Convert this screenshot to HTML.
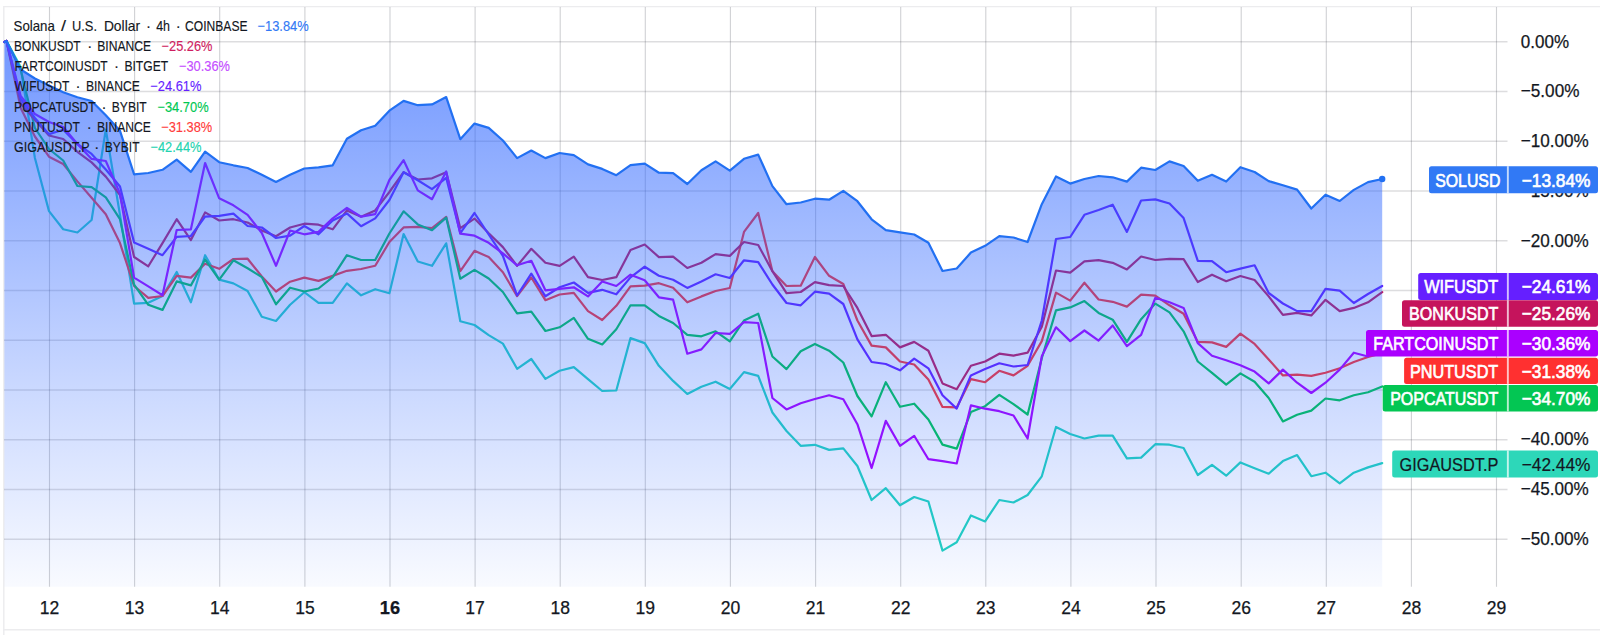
<!DOCTYPE html>
<html lang="en"><head><meta charset="utf-8"><title>Solana / U.S. Dollar chart</title>
<style>
html,body{margin:0;padding:0;background:#fff;}
body{width:1600px;height:635px;overflow:hidden;}
svg{display:block;}
text{font-family:"Liberation Sans", "DejaVu Sans", sans-serif;}
.ax{font-size:18.4px;fill:#131722;stroke:#131722;stroke-width:.25px;}
.lg{font-size:15px;fill:#131722;stroke:#131722;stroke-width:.15px;}
.lb{font-size:18.4px;fill:#fff;stroke:#fff;stroke-width:.65px;}
</style></head><body>
<svg width="1600" height="635" viewBox="0 0 1600 635">
<defs>
<linearGradient id="ag" gradientUnits="userSpaceOnUse" x1="0" y1="7" x2="0" y2="586.8">
<stop offset="0" stop-color="#2962ff" stop-opacity="0.70"/>
<stop offset="0.68" stop-color="#2962ff" stop-opacity="0.23"/>
<stop offset="1" stop-color="#2962ff" stop-opacity="0.03"/>
</linearGradient>
</defs>
<rect width="1600" height="635" fill="#fff"/>

<path d="M3.8 635 V6.6 H1600" fill="none" stroke="#ececee" stroke-width="1.4"/>
<path d="M3.8 629.8 H1600" fill="none" stroke="#ececee" stroke-width="1.4"/>
<path d="M49.5 7 V586.8 M134.6 7 V586.8 M219.7 7 V586.8 M304.9 7 V586.8 M390.0 7 V586.8 M475.1 7 V586.8 M560.2 7 V586.8 M645.3 7 V586.8 M730.4 7 V586.8 M815.6 7 V586.8 M900.7 7 V586.8 M985.8 7 V586.8 M1070.9 7 V586.8 M1156.0 7 V586.8 M1241.2 7 V586.8 M1326.3 7 V586.8 M1411.4 7 V586.8 M1496.5 7 V586.8" fill="none" stroke="#2a2e39" stroke-opacity="0.22" stroke-width="1.1"/>
<path d="M4 41.8 H1507.5 M4 91.5 H1507.5 M4 141.3 H1507.5 M4 191.0 H1507.5 M4 240.8 H1507.5 M4 290.5 H1507.5 M4 340.2 H1507.5 M4 390.0 H1507.5 M4 439.7 H1507.5 M4 489.5 H1507.5 M4 539.2 H1507.5" fill="none" stroke="#2a2e39" stroke-opacity="0.16" stroke-width="1.5"/>
<polyline points="4.4,42 6.5,41.0 20.7,67.0 34.9,158.0 49.0,211.1 63.2,229.3 77.4,232.5 91.6,220.0 105.8,129.5 120.0,215.0 134.1,303.6 148.3,302.8 162.5,296.0 176.7,272.0 190.9,302.3 205.1,255.2 219.2,279.6 233.4,283.4 247.6,291.0 261.8,316.7 276.0,321.0 290.1,304.8 304.3,292.2 318.5,302.8 332.7,302.8 346.9,283.4 361.1,295.3 375.2,289.2 389.4,293.3 403.6,234.0 417.8,261.5 432.0,265.8 446.2,243.3 460.3,321.2 474.5,325.0 488.7,335.1 502.9,343.6 517.1,368.8 531.3,359.0 545.4,378.9 559.6,370.8 573.8,367.1 588.0,379.1 602.2,391.0 616.3,390.5 630.5,338.1 644.7,343.1 658.9,365.8 673.1,380.9 687.3,394.0 701.4,386.7 715.6,381.7 729.8,389.0 744.0,372.1 758.2,375.9 772.4,412.5 786.5,431.0 800.7,445.8 814.9,444.8 829.1,449.9 843.3,448.4 857.4,466.0 871.6,500.0 885.8,488.2 900.0,505.3 914.2,497.0 928.4,501.5 942.5,550.6 956.7,542.3 970.9,515.4 985.1,521.4 999.3,500.0 1013.5,502.5 1027.6,495.0 1041.8,476.3 1056.0,427.0 1070.2,434.0 1084.4,438.5 1098.6,435.6 1112.7,435.6 1126.9,458.3 1141.1,457.6 1155.3,444.2 1169.5,444.7 1183.6,448.0 1197.8,475.0 1212.0,464.9 1226.2,475.7 1240.4,462.4 1254.6,468.2 1268.7,473.7 1282.9,461.1 1297.1,455.1 1311.3,476.2 1325.5,472.7 1339.7,483.3 1353.8,472.7 1368.0,467.4 1382.2,463.1" fill="none" stroke="#22d3c0" stroke-width="2.2" stroke-linejoin="round" stroke-linecap="round"/>
<polyline points="4.4,42 6.5,41.0 20.7,108.0 34.9,136.5 49.0,156.7 63.2,164.0 77.4,181.4 91.6,197.8 105.8,214.2 120.0,243.1 134.1,286.0 148.3,297.8 162.5,296.0 176.7,275.9 190.9,277.6 205.1,263.8 219.2,268.8 233.4,259.0 247.6,258.7 261.8,276.4 276.0,291.5 290.1,281.7 304.3,277.6 318.5,280.9 332.7,275.9 346.9,270.8 361.1,269.0 375.2,265.8 389.4,242.0 403.6,227.4 417.8,226.9 432.0,228.2 446.2,216.8 460.3,271.2 474.5,250.8 488.7,257.1 502.9,272.2 517.1,296.1 531.3,277.5 545.4,300.2 559.6,294.5 573.8,292.8 588.0,311.1 602.2,320.0 616.3,305.8 630.5,286.3 644.7,285.7 658.9,283.2 673.1,287.8 687.3,302.3 701.4,296.4 715.6,291.0 729.8,288.0 744.0,231.9 758.2,213.0 772.4,271.2 786.5,286.0 800.7,285.7 814.9,257.0 829.1,275.8 843.3,284.0 857.4,320.5 871.6,345.6 885.8,347.4 900.0,361.5 914.2,364.5 928.4,379.6 942.5,406.9 956.7,407.4 970.9,379.1 985.1,382.2 999.3,370.8 1013.5,375.4 1027.6,365.8 1041.8,341.1 1056.0,292.6 1070.2,300.6 1084.4,282.7 1098.6,299.5 1112.7,301.8 1126.9,306.6 1141.1,294.6 1155.3,295.7 1169.5,305.3 1183.6,313.7 1197.8,341.9 1212.0,342.4 1226.2,346.9 1240.4,333.6 1254.6,343.9 1268.7,359.5 1282.9,375.4 1297.1,374.6 1311.3,375.9 1325.5,372.8 1339.7,368.3 1353.8,362.0 1368.0,357.0 1382.2,353.2" fill="none" stroke="#ff3232" stroke-width="2.2" stroke-linejoin="round" stroke-linecap="round"/>
<polyline points="4.4,42 6.5,41.0 20.7,70.0 34.9,128.0 49.0,149.0 63.2,160.5 77.4,186.0 91.6,187.2 105.8,197.3 120.0,219.2 134.1,284.7 148.3,304.8 162.5,309.9 176.7,281.4 190.9,285.4 205.1,259.5 219.2,279.6 233.4,260.3 247.6,268.3 261.8,277.1 276.0,304.3 290.1,287.7 304.3,291.5 318.5,288.5 332.7,277.1 346.9,255.2 361.1,260.0 375.2,260.0 389.4,233.5 403.6,211.3 417.8,224.4 432.0,230.2 446.2,217.6 460.3,278.7 474.5,269.9 488.7,278.5 502.9,292.0 517.1,313.4 531.3,311.6 545.4,331.0 559.6,327.3 573.8,317.9 588.0,338.8 602.2,344.4 616.3,329.3 630.5,305.3 644.7,305.3 658.9,315.9 673.1,323.0 687.3,334.8 701.4,336.3 715.6,331.3 729.8,341.4 744.0,320.5 758.2,313.7 772.4,356.5 786.5,369.1 800.7,351.2 814.9,343.9 829.1,350.7 843.3,362.5 857.4,396.0 871.6,416.3 885.8,382.2 900.0,406.8 914.2,403.7 928.4,419.5 942.5,444.6 956.7,448.6 970.9,412.1 985.1,406.2 999.3,394.8 1013.5,404.1 1027.6,414.5 1041.8,358.2 1056.0,310.4 1070.2,307.4 1084.4,301.1 1098.6,312.9 1112.7,319.7 1126.9,341.9 1141.1,319.2 1155.3,303.6 1169.5,312.4 1183.6,331.3 1197.8,361.5 1212.0,372.8 1226.2,384.7 1240.4,373.4 1254.6,381.7 1268.7,398.0 1282.9,421.4 1297.1,414.8 1311.3,410.6 1325.5,398.5 1339.7,400.3 1353.8,395.3 1368.0,392.2 1382.2,386.5" fill="none" stroke="#00c853" stroke-width="2.2" stroke-linejoin="round" stroke-linecap="round"/>
<polyline points="4.4,42 6.5,41.0 20.7,103.0 34.9,120.0 49.0,135.5 63.2,139.0 77.4,151.8 91.6,162.4 105.8,176.6 120.0,195.0 134.1,257.0 148.3,266.3 162.5,243.1 176.7,219.2 190.9,240.1 205.1,212.4 219.2,220.5 233.4,219.2 247.6,222.5 261.8,230.5 276.0,236.3 290.1,227.5 304.3,223.7 318.5,224.7 332.7,229.3 346.9,210.4 361.1,216.7 375.2,210.4 389.4,192.0 403.6,172.2 417.8,179.5 432.0,178.3 446.2,172.2 460.3,228.2 474.5,218.6 488.7,233.2 502.9,247.1 517.1,265.9 531.3,248.8 545.4,262.7 559.6,265.9 573.8,256.6 588.0,277.2 602.2,280.0 616.3,277.2 630.5,250.1 644.7,244.5 658.9,257.1 673.1,256.6 687.3,268.0 701.4,262.7 715.6,254.1 729.8,255.9 744.0,242.0 758.2,245.0 772.4,271.2 786.5,293.1 800.7,292.0 814.9,282.2 829.1,285.2 843.3,286.0 857.4,307.9 871.6,336.1 885.8,334.8 900.0,347.4 914.2,341.9 928.4,350.7 942.5,383.4 956.7,389.2 970.9,365.8 985.1,361.5 999.3,353.7 1013.5,355.7 1027.6,352.7 1041.8,326.8 1056.0,270.5 1070.2,272.7 1084.4,261.4 1098.6,260.2 1112.7,262.8 1126.9,269.4 1141.1,256.5 1155.3,260.0 1169.5,258.9 1183.6,259.2 1197.8,282.0 1212.0,274.7 1226.2,281.2 1240.4,276.0 1254.6,280.0 1268.7,296.4 1282.9,314.9 1297.1,312.9 1311.3,315.4 1325.5,299.8 1339.7,311.1 1353.8,307.9 1368.0,302.3 1382.2,292.2" fill="none" stroke="#c2185b" stroke-width="2.2" stroke-linejoin="round" stroke-linecap="round"/>
<polyline points="4.4,42 6.5,41.0 20.7,99.0 34.9,118.0 49.0,134.1 63.2,129.8 77.4,144.0 91.6,153.9 105.8,169.5 120.0,186.5 134.1,242.6 148.3,248.7 162.5,255.2 176.7,236.8 190.9,236.0 205.1,216.7 219.2,215.9 233.4,213.7 247.6,226.0 261.8,227.5 276.0,238.0 290.1,235.6 304.3,226.0 318.5,234.3 332.7,220.5 346.9,213.4 361.1,226.2 375.2,218.4 389.4,200.0 403.6,172.2 417.8,180.3 432.0,189.1 446.2,177.8 460.3,233.2 474.5,213.0 488.7,234.5 502.9,255.9 517.1,295.5 531.3,273.7 545.4,296.3 559.6,287.3 573.8,282.5 588.0,292.8 602.2,289.8 616.3,294.3 630.5,277.4 644.7,266.7 658.9,275.8 673.1,279.7 687.3,287.9 701.4,281.5 715.6,274.3 729.8,278.0 744.0,260.3 758.2,262.1 772.4,284.5 786.5,303.0 800.7,305.3 814.9,291.7 829.1,293.6 843.3,304.0 857.4,339.3 871.6,362.0 885.8,364.0 900.0,370.3 914.2,358.7 928.4,368.3 942.5,395.3 956.7,408.6 970.9,375.4 985.1,369.1 999.3,363.3 1013.5,366.5 1027.6,365.0 1041.8,320.5 1056.0,239.0 1070.2,237.0 1084.4,214.8 1098.6,210.0 1112.7,204.7 1126.9,231.9 1141.1,200.5 1155.3,199.4 1169.5,203.5 1183.6,218.1 1197.8,260.9 1212.0,261.1 1226.2,272.2 1240.4,268.6 1254.6,265.3 1268.7,293.0 1282.9,303.5 1297.1,311.1 1311.3,311.1 1325.5,288.8 1339.7,290.7 1353.8,303.0 1368.0,294.0 1382.2,286.0" fill="none" stroke="#651fff" stroke-width="2.2" stroke-linejoin="round" stroke-linecap="round"/>
<polyline points="4.4,42 6.5,41.0 20.7,96.0 34.9,114.0 49.0,122.0 63.2,127.0 77.4,144.0 91.6,158.9 105.8,161.0 120.0,193.6 134.1,277.6 148.3,286.4 162.5,295.3 176.7,230.0 190.9,229.3 205.1,163.0 219.2,198.3 233.4,205.3 247.6,214.9 261.8,233.0 276.0,265.8 290.1,230.5 304.3,234.3 318.5,231.8 332.7,218.4 346.9,207.9 361.1,216.7 375.2,214.2 389.4,180.0 403.6,160.2 417.8,190.4 432.0,199.2 446.2,171.5 460.3,233.7 474.5,235.7 488.7,242.8 502.9,253.4 517.1,265.3 531.3,260.8 545.4,290.3 559.6,288.8 573.8,287.3 588.0,296.4 602.2,281.5 616.3,286.0 630.5,274.7 644.7,280.2 658.9,297.3 673.1,299.7 687.3,353.7 701.4,349.4 715.6,333.0 729.8,333.8 744.0,322.2 758.2,323.0 772.4,398.0 786.5,409.4 800.7,403.3 814.9,399.0 829.1,395.3 843.3,399.3 857.4,424.2 871.6,468.0 885.8,420.9 900.0,445.8 914.2,435.8 928.4,459.2 942.5,461.2 956.7,463.5 970.9,405.4 985.1,408.7 999.3,411.2 1013.5,415.5 1027.6,438.5 1041.8,356.2 1056.0,327.3 1070.2,341.1 1084.4,330.5 1098.6,340.6 1112.7,325.5 1126.9,346.1 1141.1,334.8 1155.3,297.8 1169.5,302.3 1183.6,307.9 1197.8,343.1 1212.0,355.7 1226.2,360.3 1240.4,365.3 1254.6,371.6 1268.7,383.4 1282.9,369.6 1297.1,382.7 1311.3,393.0 1325.5,382.7 1339.7,369.6 1353.8,352.7 1368.0,356.5 1382.2,343.5" fill="none" stroke="#aa00ff" stroke-width="2.2" stroke-linejoin="round" stroke-linecap="round"/>
<polygon points="4.4,586.8 4.4,42 6.5,41.0 20.7,69.5 34.9,78.5 49.0,85.4 63.2,92.3 77.4,97.3 91.6,101.0 105.8,115.3 120.0,130.8 134.1,174.3 148.3,173.0 162.5,169.8 176.7,159.7 190.9,171.8 205.1,151.7 219.2,162.2 233.4,165.3 247.6,168.0 261.8,174.8 276.0,181.9 290.1,174.8 304.3,168.5 318.5,167.3 332.7,165.3 346.9,138.8 361.1,130.3 375.2,125.7 389.4,110.7 403.6,100.9 417.8,105.2 432.0,104.4 446.2,97.1 460.3,139.2 474.5,123.6 488.7,127.9 502.9,140.5 517.1,158.1 531.3,150.5 545.4,158.1 559.6,153.0 573.8,155.1 588.0,164.4 602.2,168.9 616.3,175.2 630.5,165.1 644.7,163.6 658.9,172.7 673.1,173.2 687.3,184.0 701.4,170.2 715.6,161.4 729.8,170.7 744.0,158.8 758.2,154.6 772.4,186.1 786.5,204.2 800.7,202.5 814.9,198.7 829.1,199.7 843.3,190.9 857.4,201.2 871.6,219.3 885.8,230.2 900.0,232.4 914.2,234.5 928.4,242.8 942.5,271.0 956.7,268.5 970.9,252.6 985.1,245.8 999.3,236.2 1013.5,237.5 1027.6,242.0 1041.8,204.2 1056.0,176.5 1070.2,183.6 1084.4,179.0 1098.6,176.0 1112.7,177.3 1126.9,181.6 1141.1,167.7 1155.3,170.0 1169.5,161.4 1183.6,166.0 1197.8,180.8 1212.0,174.8 1226.2,181.6 1240.4,167.2 1254.6,172.0 1268.7,181.1 1282.9,185.3 1297.1,189.6 1311.3,208.5 1325.5,194.7 1339.7,201.0 1353.8,189.9 1368.0,182.1 1382.2,179.0 1382.2,586.8" fill="url(#ag)"/>
<polyline points="4.4,42 6.5,41.0 20.7,69.5 34.9,78.5 49.0,85.4 63.2,92.3 77.4,97.3 91.6,101.0 105.8,115.3 120.0,130.8 134.1,174.3 148.3,173.0 162.5,169.8 176.7,159.7 190.9,171.8 205.1,151.7 219.2,162.2 233.4,165.3 247.6,168.0 261.8,174.8 276.0,181.9 290.1,174.8 304.3,168.5 318.5,167.3 332.7,165.3 346.9,138.8 361.1,130.3 375.2,125.7 389.4,110.7 403.6,100.9 417.8,105.2 432.0,104.4 446.2,97.1 460.3,139.2 474.5,123.6 488.7,127.9 502.9,140.5 517.1,158.1 531.3,150.5 545.4,158.1 559.6,153.0 573.8,155.1 588.0,164.4 602.2,168.9 616.3,175.2 630.5,165.1 644.7,163.6 658.9,172.7 673.1,173.2 687.3,184.0 701.4,170.2 715.6,161.4 729.8,170.7 744.0,158.8 758.2,154.6 772.4,186.1 786.5,204.2 800.7,202.5 814.9,198.7 829.1,199.7 843.3,190.9 857.4,201.2 871.6,219.3 885.8,230.2 900.0,232.4 914.2,234.5 928.4,242.8 942.5,271.0 956.7,268.5 970.9,252.6 985.1,245.8 999.3,236.2 1013.5,237.5 1027.6,242.0 1041.8,204.2 1056.0,176.5 1070.2,183.6 1084.4,179.0 1098.6,176.0 1112.7,177.3 1126.9,181.6 1141.1,167.7 1155.3,170.0 1169.5,161.4 1183.6,166.0 1197.8,180.8 1212.0,174.8 1226.2,181.6 1240.4,167.2 1254.6,172.0 1268.7,181.1 1282.9,185.3 1297.1,189.6 1311.3,208.5 1325.5,194.7 1339.7,201.0 1353.8,189.9 1368.0,182.1 1382.2,179.0" fill="none" stroke="#2270f2" stroke-width="2.2" stroke-linejoin="round" stroke-linecap="round"/>
<circle cx="1382.2" cy="179" r="3.2" fill="#2270f2"/>
<text class="ax" x="1520.8" y="47.5" textLength="48.2" lengthAdjust="spacingAndGlyphs">0.00%</text>
<text class="ax" x="1520.8" y="97.2" textLength="58.6" lengthAdjust="spacingAndGlyphs">−5.00%</text>
<text class="ax" x="1520.8" y="147.0" textLength="68.0" lengthAdjust="spacingAndGlyphs">−10.00%</text>
<text class="ax" x="1520.8" y="246.5" textLength="68.0" lengthAdjust="spacingAndGlyphs">−20.00%</text>
<text class="ax" x="1520.8" y="445.4" textLength="68.0" lengthAdjust="spacingAndGlyphs">−40.00%</text>
<text class="ax" x="1520.8" y="495.2" textLength="68.0" lengthAdjust="spacingAndGlyphs">−45.00%</text>
<text class="ax" x="1520.8" y="544.9" textLength="68.0" lengthAdjust="spacingAndGlyphs">−50.00%</text>
<text class="ax" x="1520.8" y="196.7" textLength="68" lengthAdjust="spacingAndGlyphs">−15.00%</text>
<text class="ax" x="49.5" y="613.7" text-anchor="middle" textLength="19.5" lengthAdjust="spacingAndGlyphs">12</text>
<text class="ax" x="134.6" y="613.7" text-anchor="middle" textLength="19.5" lengthAdjust="spacingAndGlyphs">13</text>
<text class="ax" x="219.7" y="613.7" text-anchor="middle" textLength="19.5" lengthAdjust="spacingAndGlyphs">14</text>
<text class="ax" x="304.9" y="613.7" text-anchor="middle" textLength="19.5" lengthAdjust="spacingAndGlyphs">15</text>
<text class="ax" x="390.0" y="613.7" text-anchor="middle" textLength="20.3" lengthAdjust="spacingAndGlyphs" font-weight="bold">16</text>
<text class="ax" x="475.1" y="613.7" text-anchor="middle" textLength="19.5" lengthAdjust="spacingAndGlyphs">17</text>
<text class="ax" x="560.2" y="613.7" text-anchor="middle" textLength="19.5" lengthAdjust="spacingAndGlyphs">18</text>
<text class="ax" x="645.3" y="613.7" text-anchor="middle" textLength="19.5" lengthAdjust="spacingAndGlyphs">19</text>
<text class="ax" x="730.4" y="613.7" text-anchor="middle" textLength="19.5" lengthAdjust="spacingAndGlyphs">20</text>
<text class="ax" x="815.6" y="613.7" text-anchor="middle" textLength="19.5" lengthAdjust="spacingAndGlyphs">21</text>
<text class="ax" x="900.7" y="613.7" text-anchor="middle" textLength="19.5" lengthAdjust="spacingAndGlyphs">22</text>
<text class="ax" x="985.8" y="613.7" text-anchor="middle" textLength="19.5" lengthAdjust="spacingAndGlyphs">23</text>
<text class="ax" x="1070.9" y="613.7" text-anchor="middle" textLength="19.5" lengthAdjust="spacingAndGlyphs">24</text>
<text class="ax" x="1156.0" y="613.7" text-anchor="middle" textLength="19.5" lengthAdjust="spacingAndGlyphs">25</text>
<text class="ax" x="1241.2" y="613.7" text-anchor="middle" textLength="19.5" lengthAdjust="spacingAndGlyphs">26</text>
<text class="ax" x="1326.3" y="613.7" text-anchor="middle" textLength="19.5" lengthAdjust="spacingAndGlyphs">27</text>
<text class="ax" x="1411.4" y="613.7" text-anchor="middle" textLength="19.5" lengthAdjust="spacingAndGlyphs">28</text>
<text class="ax" x="1496.5" y="613.7" text-anchor="middle" textLength="19.5" lengthAdjust="spacingAndGlyphs">29</text>
<text class="lg" x="13.6" y="30.8" textLength="41.2" lengthAdjust="spacingAndGlyphs">Solana</text>
<text class="lg" x="61.1" y="30.8" textLength="5.0" lengthAdjust="spacingAndGlyphs">/</text>
<text class="lg" x="72" y="30.8" textLength="25.0" lengthAdjust="spacingAndGlyphs">U.S.</text>
<text class="lg" x="103.9" y="30.8" textLength="36.1" lengthAdjust="spacingAndGlyphs">Dollar</text>
<text class="lg" x="148.6" y="30.8" text-anchor="middle">·</text>
<text class="lg" x="156.2" y="30.8" textLength="13.8" lengthAdjust="spacingAndGlyphs">4h</text>
<text class="lg" x="178.2" y="30.8" text-anchor="middle">·</text>
<text class="lg" x="185.1" y="30.8" textLength="62.4" lengthAdjust="spacingAndGlyphs">COINBASE</text>
<text class="lg" x="257.5" y="30.8" textLength="51.2" lengthAdjust="spacingAndGlyphs" style="fill:#3179f5;stroke:#3179f5">−13.84%</text>
<text class="lg" x="14.1" y="51.0" textLength="66.5" lengthAdjust="spacingAndGlyphs">BONKUSDT</text>
<text class="lg" x="89.7" y="51.0" text-anchor="middle">·</text>
<text class="lg" x="97.2" y="51.0" textLength="53.9" lengthAdjust="spacingAndGlyphs">BINANCE</text>
<text class="lg" x="161.6" y="51.0" textLength="50.9" lengthAdjust="spacingAndGlyphs" style="fill:#cf1d5f;stroke:#cf1d5f">−25.26%</text>
<text class="lg" x="14.5" y="71.2" textLength="93.2" lengthAdjust="spacingAndGlyphs">FARTCOINUSDT</text>
<text class="lg" x="116.5" y="71.2" text-anchor="middle">·</text>
<text class="lg" x="124.4" y="71.2" textLength="43.7" lengthAdjust="spacingAndGlyphs">BITGET</text>
<text class="lg" x="179.0" y="71.2" textLength="51.0" lengthAdjust="spacingAndGlyphs" style="fill:#c44dff;stroke:#c44dff">−30.36%</text>
<text class="lg" x="14.5" y="91.3" textLength="54.8" lengthAdjust="spacingAndGlyphs">WIFUSDT</text>
<text class="lg" x="78.1" y="91.3" text-anchor="middle">·</text>
<text class="lg" x="85.9" y="91.3" textLength="53.9" lengthAdjust="spacingAndGlyphs">BINANCE</text>
<text class="lg" x="150.2" y="91.3" textLength="51.3" lengthAdjust="spacingAndGlyphs" style="fill:#651fff;stroke:#651fff">−24.61%</text>
<text class="lg" x="14.1" y="111.5" textLength="81.6" lengthAdjust="spacingAndGlyphs">POPCATUSDT</text>
<text class="lg" x="103.9" y="111.5" text-anchor="middle">·</text>
<text class="lg" x="111.8" y="111.5" textLength="34.9" lengthAdjust="spacingAndGlyphs">BYBIT</text>
<text class="lg" x="157.4" y="111.5" textLength="51.2" lengthAdjust="spacingAndGlyphs" style="fill:#00c853;stroke:#00c853">−34.70%</text>
<text class="lg" x="14.1" y="131.8" textLength="65.9" lengthAdjust="spacingAndGlyphs">PNUTUSDT</text>
<text class="lg" x="89.2" y="131.8" text-anchor="middle">·</text>
<text class="lg" x="97" y="131.8" textLength="53.9" lengthAdjust="spacingAndGlyphs">BINANCE</text>
<text class="lg" x="161.2" y="131.8" textLength="51.1" lengthAdjust="spacingAndGlyphs" style="fill:#ff3b3b;stroke:#ff3b3b">−31.38%</text>
<text class="lg" x="14.1" y="151.9" textLength="75.6" lengthAdjust="spacingAndGlyphs">GIGAUSDT.P</text>
<text class="lg" x="96.7" y="151.9" text-anchor="middle">·</text>
<text class="lg" x="104.8" y="151.9" textLength="34.7" lengthAdjust="spacingAndGlyphs">BYBIT</text>
<text class="lg" x="150.5" y="151.9" textLength="51.0" lengthAdjust="spacingAndGlyphs" style="fill:#22d3b0;stroke:#22d3b0">−42.44%</text>
<path d="M1431.5 166.2 H1595.5 Q1598 166.2 1598 168.7 V190.7 Q1598 193.2 1595.5 193.2 H1431.5 Q1429 193.2 1429 190.7 V168.7 Q1429 166.2 1431.5 166.2 Z" fill="#3179f5"/>
<rect x="1506.9" y="166.2" width="1.9" height="27.0" fill="#fff" fill-opacity="0.72"/>
<text class="lb" x="1435.2" y="186.6" textLength="65.2" lengthAdjust="spacingAndGlyphs">SOLUSD</text>
<text class="lb" x="1521.7" y="186.6" textLength="68.8" lengthAdjust="spacingAndGlyphs">−13.84%</text>
<path d="M1420.7 272.9 H1595.5 Q1598 272.9 1598 275.4 V297.4 Q1598 299.9 1595.5 299.9 H1420.7 Q1418.2 299.9 1418.2 297.4 V275.4 Q1418.2 272.9 1420.7 272.9 Z" fill="#651fff"/>
<rect x="1506.9" y="272.9" width="1.9" height="27.0" fill="#fff" fill-opacity="0.72"/>
<text class="lb" x="1424.2" y="293.3" textLength="74.1" lengthAdjust="spacingAndGlyphs">WIFUSDT</text>
<text class="lb" x="1521.7" y="293.3" textLength="68.8" lengthAdjust="spacingAndGlyphs">−24.61%</text>
<path d="M1404.5 300.2 H1595.5 Q1598 300.2 1598 302.7 V324.3 Q1598 326.8 1595.5 326.8 H1404.5 Q1402 326.8 1402 324.3 V302.7 Q1402 300.2 1404.5 300.2 Z" fill="#c5145c"/>
<rect x="1506.9" y="300.2" width="1.9" height="26.6" fill="#fff" fill-opacity="0.72"/>
<text class="lb" x="1409.1" y="320.4" textLength="89.2" lengthAdjust="spacingAndGlyphs">BONKUSDT</text>
<text class="lb" x="1521.7" y="320.4" textLength="68.8" lengthAdjust="spacingAndGlyphs">−25.26%</text>
<path d="M1368.5 330 H1595.5 Q1598 330 1598 332.5 V354.1 Q1598 356.6 1595.5 356.6 H1368.5 Q1366 356.6 1366 354.1 V332.5 Q1366 330 1368.5 330 Z" fill="#aa00ff"/>
<rect x="1506.9" y="330" width="1.9" height="26.6" fill="#fff" fill-opacity="0.72"/>
<text class="lb" x="1373.3" y="350.2" textLength="125.0" lengthAdjust="spacingAndGlyphs">FARTCOINUSDT</text>
<text class="lb" x="1521.7" y="350.2" textLength="68.8" lengthAdjust="spacingAndGlyphs">−30.36%</text>
<path d="M1406.6 357.8 H1595.5 Q1598 357.8 1598 360.3 V381.4 Q1598 383.9 1595.5 383.9 H1406.6 Q1404.1 383.9 1404.1 381.4 V360.3 Q1404.1 357.8 1406.6 357.8 Z" fill="#ff3030"/>
<rect x="1506.9" y="357.8" width="1.9" height="26.1" fill="#fff" fill-opacity="0.72"/>
<text class="lb" x="1409.9" y="377.8" textLength="88.4" lengthAdjust="spacingAndGlyphs">PNUTUSDT</text>
<text class="lb" x="1521.7" y="377.8" textLength="68.8" lengthAdjust="spacingAndGlyphs">−31.38%</text>
<path d="M1385.2 384.9 H1595.5 Q1598 384.9 1598 387.4 V408.9 Q1598 411.4 1595.5 411.4 H1385.2 Q1382.7 411.4 1382.7 408.9 V387.4 Q1382.7 384.9 1385.2 384.9 Z" fill="#03c653"/>
<rect x="1506.9" y="384.9" width="1.9" height="26.5" fill="#fff" fill-opacity="0.72"/>
<text class="lb" x="1390.2" y="405.0" textLength="108.1" lengthAdjust="spacingAndGlyphs">POPCATUSDT</text>
<text class="lb" x="1521.7" y="405.0" textLength="68.8" lengthAdjust="spacingAndGlyphs">−34.70%</text>
<path d="M1394.7 450.5 H1595.5 Q1598 450.5 1598 453.0 V475.0 Q1598 477.5 1595.5 477.5 H1394.7 Q1392.2 477.5 1392.2 475.0 V453.0 Q1392.2 450.5 1394.7 450.5 Z" fill="#2dd7b9"/>
<rect x="1506.9" y="450.5" width="1.9" height="27.0" fill="#fff" fill-opacity="0.72"/>
<text class="lb" x="1399.5" y="470.9" textLength="98.8" lengthAdjust="spacingAndGlyphs" style="fill:#131722;stroke:#131722;stroke-width:.2px">GIGAUSDT.P</text>
<text class="lb" x="1521.7" y="470.9" textLength="68.8" lengthAdjust="spacingAndGlyphs" style="fill:#131722;stroke:#131722;stroke-width:.2px">−42.44%</text>
</svg></body></html>
